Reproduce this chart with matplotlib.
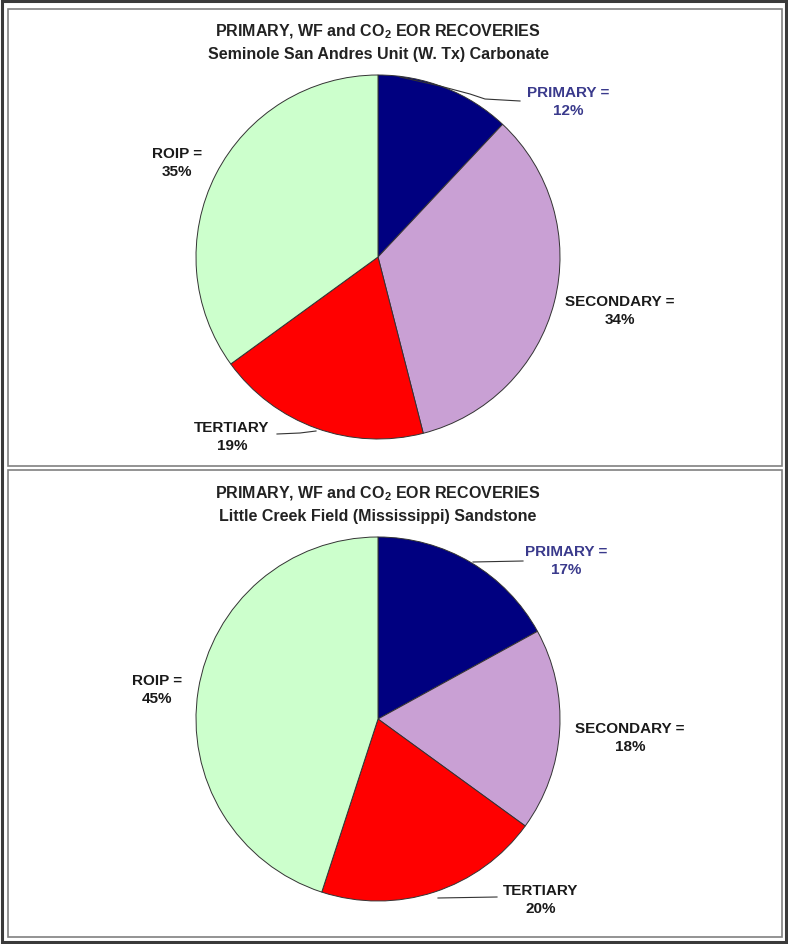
import matplotlib.pyplot as plt
import matplotlib.patches as mpatches

W, H = 788, 945

categories = ['PRIMARY', 'SECONDARY', 'TERTIARY', 'ROIP']
seminole = [12, 34, 19, 35]
little_creek = [17, 18, 20, 45]
titles = ['Seminole San Andres Unit (W. Tx) Carbonate',
          'Little Creek Field (Mississippi) Sandstone']
colors = ['#000080', '#C9A0D4', '#FF0000', '#CCFFCC']
label_colors = ['#3a3a8c', '#1a1a1a', '#1a1a1a', '#1a1a1a']

plt.rcParams['font.family'] = ['Liberation Sans', 'DejaVu Sans']
plt.rcParams['mathtext.fontset'] = 'custom'
plt.rcParams['mathtext.rm'] = 'Liberation Sans:bold'
plt.rcParams['mathtext.bf'] = 'Liberation Sans:bold'
plt.rcParams['mathtext.default'] = 'bf'

fig = plt.figure(figsize=(W / 100, H / 100), dpi=100)
ax = fig.add_axes([0, 0, 1, 1])


def Y(y):
    # pixel row (from top) -> data y
    return H - y


# frames
ax.add_patch(mpatches.Rectangle((2, Y(943)), 784, 941, fill=False,
                                edgecolor='#3a3a3a', lw=2.2))
for top, bot in [(10, 467), (471, 938)]:
    ax.add_patch(mpatches.Rectangle((8, Y(bot)), 774, bot - top, fill=False,
                                    edgecolor='#808080', lw=1.2))

panels = [
    dict(vals=seminole, sub=titles[0], cy=258, ty=32,
         labels=[(568, 102), (620, 311), (232, 437), (177, 163)],
         leaders=[[(400, 78), (440, 87), (470, 95), (485, 100), (520, 102)],
                  [(316, 432), (300, 434), (277, 435)]]),
    dict(vals=little_creek, sub=titles[1], cy=720, ty=494,
         labels=[(566, 561), (630, 738), (541, 900), (157, 690)],
         leaders=[[(473, 563), (523, 562)],
                  [(438, 899), (497, 898)]]),
]

for p in panels:
    ax.text(378, Y(p['ty']), 'PRIMARY, WF and CO$_2$ EOR RECOVERIES',
            ha='center', va='center', fontsize=11.5, fontweight='bold', color='#222222')
    ax.text(378, Y(p['ty'] + 23), p['sub'],
            ha='center', va='center', fontsize=11.5, fontweight='bold', color='#222222')
    ax.pie(p['vals'], colors=colors, startangle=90, counterclock=False,
           center=(378, Y(p['cy'])), radius=182, frame=True,
           wedgeprops=dict(edgecolor='#333333', linewidth=0.7))
    for i, (cat, v) in enumerate(zip(categories, p['vals'])):
        name = cat + ' =' if cat != 'TERTIARY' else cat
        lx, ly = p['labels'][i]
        ax.text(lx, Y(ly), f'{name}\n{v}%', ha='center', va='center',
                fontsize=11, fontweight='bold', color=label_colors[i],
                linespacing=1.45)
    for pts in p['leaders']:
        ax.plot([q[0] for q in pts], [Y(q[1]) for q in pts], color='#333333', lw=0.8)

ax.set_xlim(0, W)
ax.set_ylim(0, H)
ax.set_aspect('equal')
ax.axis('off')

fig.savefig('out.png', dpi=100)
